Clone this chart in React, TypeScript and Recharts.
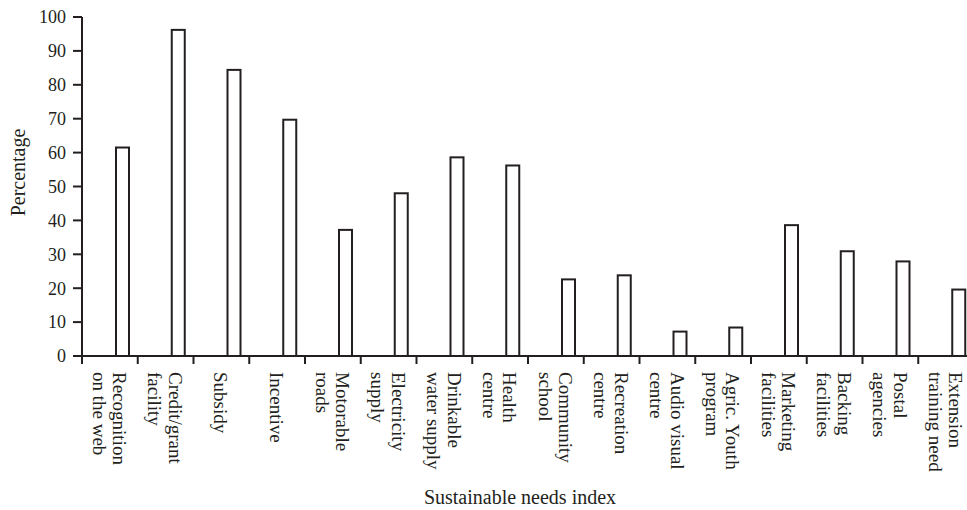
import { BarChart, Bar, XAxis, YAxis } from "recharts";

// categorías (salto de línea = segunda línea de la etiqueta)
const categories = [
  "Recognition\non the web",
  "Credit/grant\nfacility",
  "Subsidy",
  "Incentive",
  "Motorable\nroads",
  "Electricity\nsupply",
  "Drinkable\nwater supply",
  "Health\ncentre",
  "Community\nschool",
  "Recreation\ncentre",
  "Audio visual\ncentre",
  "Agric. Youth\nprogram",
  "Marketing\nfacilities",
  "Backing\nfacilities",
  "Postal\nagencies",
  "Extension\ntraining need",
];

const percentages = [61.5, 96.2, 84.4, 69.7, 37.2, 48, 58.6, 56.2, 22.6, 23.8, 7.2, 8.4, 38.6, 30.9, 27.9, 19.6];

const yTicks = [0, 10, 20, 30, 40, 50, 60, 70, 80, 90, 100];

const data = categories.map((name, i) => ({ name, value: percentages[i] }));

const INK = "#231f20";
const FONT = "'Liberation Serif', 'Times New Roman', serif";
const W = 967;
const H = 510;
const TOP = 17;
const Y_AXIS_W = 82;
const RIGHT = -7; // el eje sigue más allá del borde de la imagen
const X_AXIS_H = 154;
const BAND = (W - Y_AXIS_W - RIGHT) / categories.length;
const BAR_SHIFT = 13; // las barras están a la derecha de cada categoría

const CategoryTick = (props: any) => {
  const { x, y, payload } = props;
  const lines = String(payload.value).split("\n");
  const half = BAND / 2;
  return (
    <g transform={`translate(${x},${y})`}>
      <line x1={-half} x2={-half} y1={0} y2={8} stroke={INK} strokeWidth={2} />
      <text transform="rotate(90)" fontSize={19} fontFamily={FONT} fill={INK}>
        {lines.map((l, i) => (
          <tspan key={i} x={16} y={7 + (i - (lines.length - 1) / 2) * 20.5}>
            {l}
          </tspan>
        ))}
      </text>
    </g>
  );
};

const OpenBar = (props: any) => {
  const { x, y, width, height } = props;
  return (
    <rect
      x={x + BAR_SHIFT}
      y={y}
      width={width}
      height={height}
      fill="#ffffff"
      stroke={INK}
      strokeWidth={2}
    />
  );
};

export default function App() {
  const plotMidY = TOP + (H - TOP - X_AXIS_H) / 2;
  return (
    <div style={{ width: W, height: H, overflow: "hidden" }}>
      <style>{"html,body{margin:0;padding:0;overflow:hidden;}"}</style>
      <BarChart
        width={W}
        height={H}
        data={data}
        margin={{ top: TOP, right: RIGHT, left: 0, bottom: 0 }}
        barSize={13}
      >
        <XAxis
          dataKey="name"
          type="category"
          interval={0}
          height={X_AXIS_H}
          tickSize={0}
          tickMargin={0}
          tickLine={false}
          axisLine={{ stroke: INK, strokeWidth: 2 }}
          tick={<CategoryTick />}
          label={(p: any) => (
            <text
              x={p.viewBox.x + p.viewBox.width / 2 - 8}
              y={H - 6}
              textAnchor="middle"
              fontSize={20}
              fontFamily={FONT}
              fill={INK}
            >
              Sustainable needs index
            </text>
          )}
        />
        <YAxis
          width={Y_AXIS_W}
          domain={[0, 100]}
          ticks={yTicks}
          interval={0}
          tickSize={9}
          tickMargin={7}
          axisLine={{ stroke: INK, strokeWidth: 2 }}
          tickLine={{ stroke: INK, strokeWidth: 2 }}
          tick={{ fontSize: 18, fill: INK, fontFamily: FONT }}
          label={() => (
            <text
              x={25}
              y={plotMidY - 14}
              transform={`rotate(-90, 25, ${plotMidY - 14})`}
              textAnchor="middle"
              fontSize={20}
              fontFamily={FONT}
              fill={INK}
            >
              Percentage
            </text>
          )}
        />
        <Bar dataKey="value" shape={<OpenBar />} isAnimationActive={false} />
      </BarChart>
    </div>
  );
}
